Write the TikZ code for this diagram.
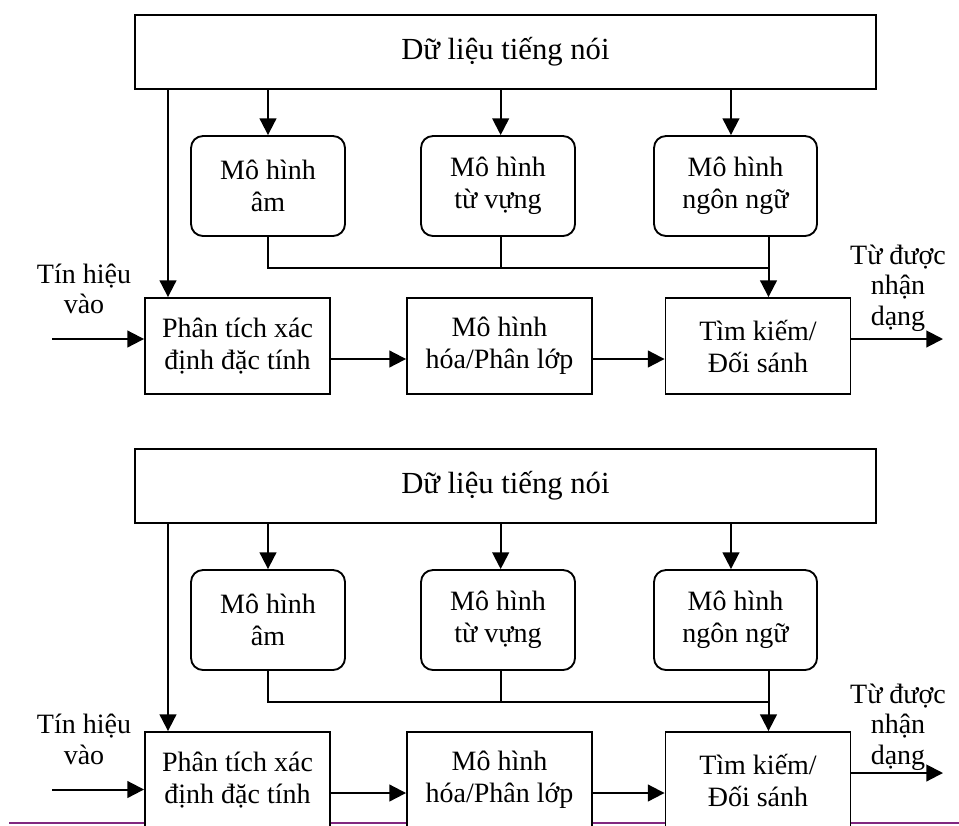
\documentclass[tikz,border=0pt]{standalone}
\usepackage{fontspec}
\setmainfont{Liberation Serif}
\usetikzlibrary{arrows.meta}

\begin{document}
\begin{tikzpicture}[x=0.75pt,y=0.75pt,yscale=-1,xscale=1,
  box/.style={draw,line width=1.4pt,fill=white,minimum width=138.75pt,minimum height=72pt,inner sep=0pt,align=center,font=\fontsize{21}{24}\selectfont},
  model/.style={box,rounded corners=9pt,minimum width=115.5pt,minimum height=75pt},
  databox/.style={box,minimum width=555.75pt,minimum height=55.5pt,font=\fontsize{23}{28}\selectfont},
  lbl/.style={inner sep=0pt,align=center,font=\fontsize{21}{23}\selectfont},
  arr/.style={-{Triangle[length=12.5pt,width=12.5pt]},line width=1.5pt},
  link/.style={line width=1.3pt}]
\useasboundingbox (0,0) rectangle (959,825);
\clip (0,0) rectangle (959,825);

%Straight Lines: page rule under the second copy
\draw [color={rgb, 255:red, 128; green, 40; blue, 128 }, line width=1.5pt] (9,822.5) -- (959,822.5) ;

\foreach \d/\s/\e/\f in {0/1/0/0, 434/2/16.5/5} {
% Text Node
\node [databox] (data\s) at (505.4,52+\d) {Dữ liệu tiếng nói};
%Shape: Rounded Rect
\node [model] (am\s) at (268,186+\d) {Mô hình\\âm};
\node [model] (tuvung\s) at (498,186+\d) {Mô hình\\từ vựng};
\node [model,minimum width=122.25pt] (ngonngu\s) at (735.5,186+\d) {Mô hình\\ngôn ngữ};
%Shape: Rectangle
\node [box] (phantich\s) at (237.5,346+\d) {Phân tích xác\\định đặc tính};
\node [box] (hoa\s) at (499.5,346+\d) {Mô hình\\hóa/Phân lớp};
\node [box] (tim\s) at (758,346+\d) {Tìm kiếm/\\Đối sánh};
% Text Node
\node [lbl] (vao\s) at (84,289+\d+\e) {Tín hiệu\\vào};
\node [lbl] (ra\s) at (898,288+\d+\f) {Từ được\\nhận\\dạng};

\coordinate (tap\s) at (168,0);
\coordinate (merge\s) at (768.5,268+\d);
\coordinate (in\s) at (52,339+\d+\e);
\coordinate (out\s) at (943,339+\d);

%Straight Lines
\draw [arr] (data\s.south -| am\s.north) -- (am\s.north) ;
\draw [arr] ([xshift=2pt]data\s.south -| tuvung\s.north) -- ([xshift=2pt]tuvung\s.north) ;
\draw [arr] ([xshift=-3.4pt]data\s.south -| ngonngu\s.north) -- ([xshift=-3.4pt]ngonngu\s.north) ;
\draw [arr] (tap\s |- data\s.south) -- (tap\s |- phantich\s.north) ;
\draw [link] (am\s.south) |- (merge\s) ;
\draw [link] ([xshift=2pt]tuvung\s.south) -- ([xshift=2pt]tuvung\s.south |- merge\s) ;
\draw [arr] (ngonngu\s.south -| merge\s) -- (tim\s.north -| merge\s) ;
\draw [arr] (in\s) -- (in\s -| phantich\s.west) ;
\draw [arr] ([yshift=9.75pt]phantich\s.east) -- ([yshift=9.75pt]hoa\s.west) ;
\draw [arr] ([yshift=9.75pt]hoa\s.east) -- ([yshift=9.75pt]tim\s.west) ;
\draw [arr] (out\s -| tim\s.east) -- (out\s) ;
}

\end{tikzpicture}
\end{document}
